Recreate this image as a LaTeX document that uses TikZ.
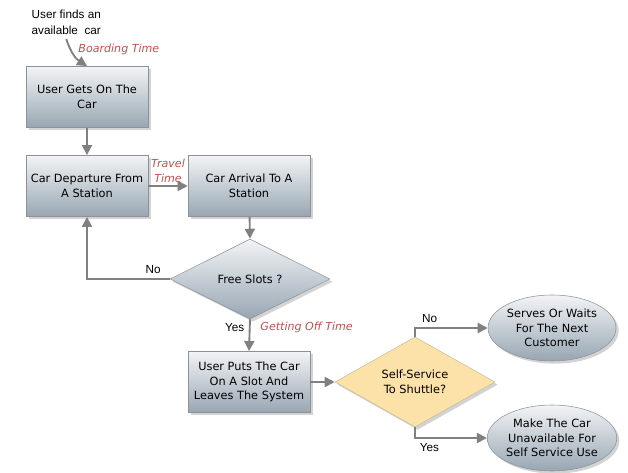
\documentclass[tikz,border=0pt]{standalone}
\usepackage{fontspec}
\setmainfont{DejaVu Sans}
\newfontfamily\labelfont{Liberation Sans}
\usetikzlibrary{shapes.geometric,arrows.meta,shadows}
\definecolor{boxtop}{HTML}{F2F4F6}
\definecolor{boxbot}{HTML}{98A6B2}
\definecolor{boxline}{HTML}{8C9297}
\definecolor{flowgray}{HTML}{808080}
\definecolor{timered}{HTML}{C0504D}
\definecolor{shuttlefill}{HTML}{FCE2A8}
\definecolor{shuttleline}{HTML}{C9BC98}
\tikzset{
  stepbox/.style={rectangle, draw=boxline, top color=boxtop, bottom color=boxbot,
    minimum width=91.5pt, minimum height=46pt, align=center, font=\fontsize{8.5}{11}\selectfont,
    drop shadow={opacity=0.35, shadow xshift=2pt, shadow yshift=-2pt}},
  decide/.style={diamond, draw=boxline, top color=boxtop, bottom color=boxbot,
    minimum width=120pt, minimum height=60pt, inner sep=0pt, align=center,
    font=\fontsize{8.5}{11}\selectfont,
    drop shadow={opacity=0.35, shadow xshift=2pt, shadow yshift=-2pt}},
  outcome/.style={ellipse, draw=boxline, top color=boxtop, bottom color=boxbot,
    minimum width=96pt, minimum height=49.5pt, inner sep=0pt, align=center,
    font=\fontsize{8.5}{11}\selectfont,
    drop shadow={opacity=0.35, shadow xshift=2pt, shadow yshift=-2pt}},
  flow/.style={draw=flowgray, line width=1.4pt, -{Triangle[length=7.5pt,width=7.5pt]}},
  timelabel/.style={text=timered, font=\fontsize{8.3}{11}\selectfont\itshape},
  answer/.style={font=\labelfont\fontsize{8.8}{12}\selectfont}
}
\begin{document}
\begin{tikzpicture}[x=0.75pt, y=-0.75pt]
  \useasboundingbox (0,0) rectangle (628,473);

  \node[answer, align=left, anchor=west] (finds) at (27,22) {User finds an\\available\ \ car};

  \node[stepbox] (gets) at (87,97) {User Gets On The\\Car};
  \node[stepbox] (depart) at (87,186) {Car Departure From\\A Station};
  \node[stepbox] (arrive) at (249,186) {Car Arrival To A\\Station};
  \node[decide] (free) at (250,279) {Free Slots ?};
  \node[stepbox] (puts) at (249,382) {User Puts The Car\\On A Slot And\\Leaves The System};
  \node[decide, top color=shuttlefill, bottom color=shuttlefill, draw=shuttleline] (shuttle) at (415,382) {Self-Service\\To Shuttle?};
  \node[outcome] (serves) at (552,328) {Serves Or Waits\\For The Next\\Customer};
  \node[outcome] (unavail) at (552,438) {Make The Car\\Unavailable For\\Self Service Use};

  \draw[flow] (finds.south) to[bend right=20] node[timelabel, pos=0.3, right, xshift=2pt] {Boarding Time} (gets.north);
  \draw[flow] (gets) -- (depart);
  \draw[flow] (depart) -- (arrive) node[timelabel, midway, above, align=center, inner sep=1pt, yshift=1pt] {Travel\\Time};
  \draw[flow] (arrive) -- (free.north);
  \draw[flow] (free.west) -| (depart.south) node[answer, pos=0.1, above] {No};
  \draw[flow] (free.south) -- (puts.north) node[answer, pos=0.27, left] {Yes}
    node[timelabel, pos=0.27, right, xshift=4pt] {Getting Off Time};
  \draw[flow] (puts) -- (shuttle.west);
  \draw[flow] (shuttle.north) |- (serves.west) node[answer, pos=0.6, above] {No};
  \draw[flow] (shuttle.south) |- (unavail.west) node[answer, pos=0.6, below] {Yes};
\end{tikzpicture}
\end{document}
